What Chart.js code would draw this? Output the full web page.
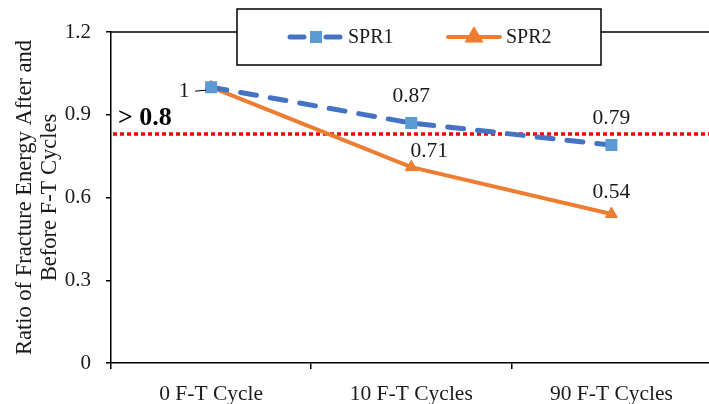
<!DOCTYPE html>
<html>
<head>
<meta charset="utf-8">
<script src="https://cdn.jsdelivr.net/npm/chart.js@4/dist/chart.umd.min.js"></script>
<style>
html, body { margin: 0; padding: 0; background: #fff; overflow: hidden; }
#wrap { width: 720px; height: 404px; }
</style>
</head>
<body>
<div id="wrap"><canvas id="chart_ft"></canvas></div>
<script>
const categories = ["0 F-T Cycle", "10 F-T Cycles", "90 F-T Cycles"];
const spr1 = [1, 0.87, 0.79];
const spr2 = [1, 0.71, 0.54];
const yTicks = [0, 0.3, 0.6, 0.9, 1.2];
const threshold = 0.83;
const thresholdLabel = "> 0.8";

Chart.defaults.font.family = '"Liberation Serif", "Times New Roman", serif';
Chart.defaults.color = "#1a1a1a";

// red dotted limit line with its bold caption
const limitLine = {
    id: "limitLine",
    beforeDatasetsDraw(chart) {
        const ctx = chart.ctx;
        const area = chart.chartArea;
        const py = chart.scales.y.getPixelForValue(threshold);
        ctx.save();
        ctx.strokeStyle = "#FF0000";
        ctx.lineWidth = 3.5;
        ctx.setLineDash([4, 3]);
        ctx.beginPath();
        ctx.moveTo(area.left + 2, py);
        ctx.lineTo(area.right, py);
        ctx.stroke();
        ctx.setLineDash([]);
        ctx.font = 'bold 26px "Liberation Serif"';
        ctx.fillStyle = "#000";
        ctx.textAlign = "left";
        ctx.textBaseline = "alphabetic";
        ctx.fillText(thresholdLabel, area.left + 7, py - 9);
        ctx.restore();
    }
};

// value labels next to the points, offsets per dataset / point
const valueLabels = {
    id: "valueLabels",
    afterDatasetsDraw(chart, args, opts) {
        const ctx = chart.ctx;
        ctx.save();
        ctx.font = '21.5px "Liberation Serif"';
        ctx.fillStyle = "#1a1a1a";
        ctx.textAlign = "center";
        ctx.textBaseline = "middle";
        chart.data.datasets.forEach(function(ds, i){
            const meta = chart.getDatasetMeta(i);
            const place = opts.offsets[i] || [];
            meta.data.forEach(function(pt, j){
                const off = place[j];
                if(!off) return;
                const lx = pt.x + off[0];
                const ly = pt.y + off[1];
                ctx.fillText(String(ds.data[j]), lx, ly);
                if(off[2]){
                    // leader line from label to point
                    ctx.strokeStyle = "#000";
                    ctx.lineWidth = 1;
                    ctx.beginPath();
                    ctx.moveTo(lx + 11, ly);
                    ctx.lineTo(pt.x - 5, ly - 1);
                    ctx.stroke();
                }
            });
        });
        ctx.restore();
    }
};

// top border of the plot area and the boxed legend
const frameLegend = {
    id: "frameLegend",
    afterDraw(chart) {
        const ctx = chart.ctx;
        const area = chart.chartArea;
        ctx.save();
        ctx.strokeStyle = "#000";
        ctx.lineWidth = 1.5;
        ctx.beginPath();
        ctx.moveTo(area.left, area.top);
        ctx.lineTo(area.right, area.top);
        ctx.stroke();

        const bx = area.left + 126, by = 9, bw = 364, bh = 56;
        ctx.fillStyle = "#fff";
        ctx.fillRect(bx, by, bw, bh);
        ctx.strokeRect(bx, by, bw, bh);

        const cy = by + 28;
        const items = [{x: bx + 53}, {x: bx + 211}];
        chart.data.datasets.forEach(function(ds, i){
            const x0 = items[i].x, x1 = x0 + 52;
            ctx.strokeStyle = ds.borderColor;
            ctx.lineWidth = ds.borderWidth;
            ctx.lineCap = "round";
            ctx.setLineDash(ds.borderDash && ds.borderDash.length ? [14, 22] : []);
            ctx.beginPath();
            ctx.moveTo(x0, cy);
            ctx.lineTo(x1, cy);
            ctx.stroke();
            ctx.setLineDash([]);
            ctx.fillStyle = ds.pointBackgroundColor;
            ctx.strokeStyle = ds.pointBorderColor;
            Chart.helpers.drawPoint(ctx, {
                pointStyle: ds.pointStyle,
                radius: ds.pointRadius,
                rotation: 0,
                borderWidth: ds.pointBorderWidth
            }, (x0 + x1) / 2, cy);
            ctx.font = '20px "Liberation Serif"';
            ctx.fillStyle = "#1a1a1a";
            ctx.textAlign = "left";
            ctx.textBaseline = "middle";
            ctx.fillText(ds.label, x1 + 6, cy + 1);
        });
        ctx.restore();
    }
};

const ctx_ft = document.querySelector("#chart_ft").getContext("2d");

new Chart(ctx_ft, {
    type: "line",
    data: {
        labels: categories,
        datasets: [{
            label: "SPR1",
            data: spr1,
            borderColor: "#4472C4",
            borderWidth: 5,
            borderDash: [16, 14],
            borderCapStyle: "round",
            pointStyle: "rect",
            pointRadius: 8.5,
            pointBorderWidth: 0,
            pointBackgroundColor: "#5B9BD5",
            pointBorderColor: "#5B9BD5",
            tension: 0
        }, {
            label: "SPR2",
            data: spr2,
            borderColor: "#ED7D31",
            borderWidth: 4,
            pointStyle: "triangle",
            pointRadius: 7,
            pointBorderWidth: 1,
            pointBackgroundColor: "#ED7D31",
            pointBorderColor: "#ED7D31",
            tension: 0
        }]
    },
    options: {
        responsive: true,
        maintainAspectRatio: false,
        animation: false,
        layout: { padding: { top: 32, right: 6, left: 0, bottom: 0 } },
        plugins: {
            legend: { display: false },
            tooltip: { enabled: false },
            valueLabels: {
                offsets: [
                    [[-27, 4, true], [0, -27], [0, -27]],
                    [null, [18, -16], [0, -22]]
                ]
            }
        },
        scales: {
            x: {
                offset: true,
                grid: { offset: true, drawOnChartArea: false, drawTicks: true, tickLength: 6, color: "#000", lineWidth: 1.5 },
                border: { color: "#000", width: 1.5 },
                ticks: { font: { size: 21.5 }, padding: 12, color: "#1a1a1a" },
                afterFit: function(s){ s.height = 41; }
            },
            y: {
                min: 0,
                max: 1.2,
                afterBuildTicks: function(s){ s.ticks = yTicks.map(function(v){ return { value: v }; }); },
                grid: { drawOnChartArea: false, drawTicks: true, tickLength: 5, color: "#000", lineWidth: 1.5 },
                border: { color: "#000", width: 1.5 },
                ticks: {
                    font: { size: 21 },
                    padding: 15,
                    color: "#1a1a1a",
                    callback: function(v){ return v === 0 ? "0" : v.toFixed(1); }
                },
                title: {
                    display: true,
                    text: ["Ratio of Fracture Energy After and", "Before F-T Cycles"],
                    font: { size: 22.5, lineHeight: 1.1 },
                    color: "#1a1a1a",
                    padding: { top: 13, bottom: 0 }
                },
                afterFit: function(s){ s.width = 111; }
            }
        }
    },
    plugins: [limitLine, valueLabels, frameLegend]
});
</script>
</body>
</html>
